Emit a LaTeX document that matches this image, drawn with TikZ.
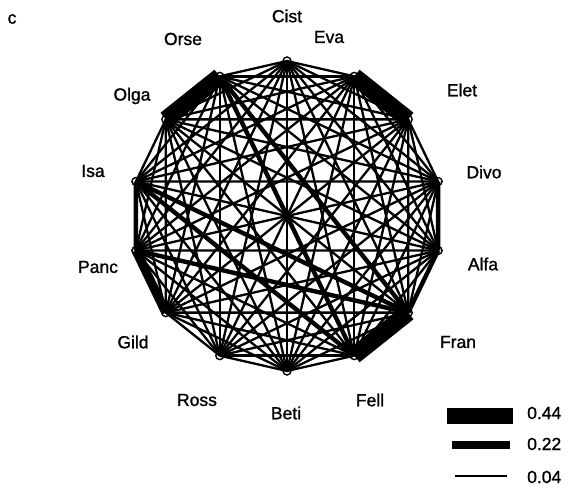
\documentclass[tikz,border=0pt]{standalone}
\usepackage{fontspec}
\setmainfont{Liberation Sans}[FakeBold=1.2]
\begin{document}
\begin{tikzpicture}[x=1pt,y=1pt,
  edge/.style={line width=2.3pt, line cap=butt},
  midedge/.style={line width=4.4pt, line cap=butt},
  heavyedge/.style={line width=17pt, line cap=butt},
  dotnode/.style={draw, circle, fill=white, inner sep=0pt, minimum size=8pt, line width=1.4pt},
  lbl/.style={font=\fontsize{17.5}{20}\selectfont, inner sep=0pt},
  legtext/.style={font=\fontsize{17.5}{20}\selectfont, inner sep=0pt, anchor=west}]
\useasboundingbox (0,0) rectangle (570,488);
\begin{scope}[shift={(287,272)}]
  \foreach \n [count=\i from 0] in {Cist,Eva,Elet,Divo,Alfa,Fran,Fell,Beti,Ross,Gild,Panc,Isa,Olga,Orse}
    \coordinate (\n) at ({90-\i*360/14}:155);
\end{scope}
% node markers
\foreach \n in {Cist,Eva,Elet,Divo,Alfa,Fran,Fell,Beti,Ross,Gild,Panc,Isa,Olga,Orse}
  \node[dotnode] (d\n) at (\n) {};
% all pair edges
\foreach \a [count=\i] in {Cist,Eva,Elet,Divo,Alfa,Fran,Fell,Beti,Ross,Gild,Panc,Isa,Olga,Orse}{
  \foreach \b [count=\j] in {Cist,Eva,Elet,Divo,Alfa,Fran,Fell,Beti,Ross,Gild,Panc,Isa,Olga,Orse}{
    \ifnum\j>\i \draw[edge] (\a) -- (\b); \fi
  }
}
% stronger edges
\foreach \a/\b in {Orse/Fran, Isa/Fran, Isa/Fell, Panc/Fran, Orse/Fell, Isa/Panc, Alfa/Fran, Divo/Alfa}
  \draw[midedge] (\a) -- (\b);
\draw[line width=9pt, line cap=butt] (Panc) -- (Gild);
\draw[heavyedge] (Eva) -- (Elet);
\draw[heavyedge] (Orse) -- (Olga);
\draw[heavyedge] (Fran) -- (Fell);
% labels
\node[lbl] (c) at (12,469) {c};
\node[lbl] (lCist) at (287,472) {Cist};
\node[lbl] (lEva) at (329,451) {Eva};
\node[lbl] (lElet) at (462,398) {Elet};
\node[lbl] (lDivo) at (484,316) {Divo};
\node[lbl] (lAlfa) at (483,224) {Alfa};
\node[lbl] (lFran) at (458,146) {Fran};
\node[lbl] (lFell) at (370,88) {Fell};
\node[lbl] (lBeti) at (286,75) {Beti};
\node[lbl] (lRoss) at (197,88) {Ross};
\node[lbl] (lGild) at (133,146) {Gild};
\node[lbl] (lPanc) at (98,221) {Panc};
\node[lbl] (lIsa) at (93,317) {Isa};
\node[lbl] (lOlga) at (132,392) {Olga};
\node[lbl] (lOrse) at (183,449) {Orse};
% legend
\coordinate (g1a) at (447,72); \coordinate (g1b) at (513,72);
\coordinate (g2a) at (452,43); \coordinate (g2b) at (510,43);
\coordinate (g3a) at (455,12); \coordinate (g3b) at (507,12);
\draw[line width=16pt, line cap=butt] (g1a) -- (g1b);
\draw[line width=8.5pt, line cap=butt] (g2a) -- (g2b);
\draw[line width=2.2pt, line cap=butt] (g3a) -- (g3b);
\node[legtext] (t1) at (527,75) {0.44};
\node[legtext] (t2) at (527,44) {0.22};
\node[legtext] (t3) at (527,11) {0.04};
\end{tikzpicture}
\end{document}
